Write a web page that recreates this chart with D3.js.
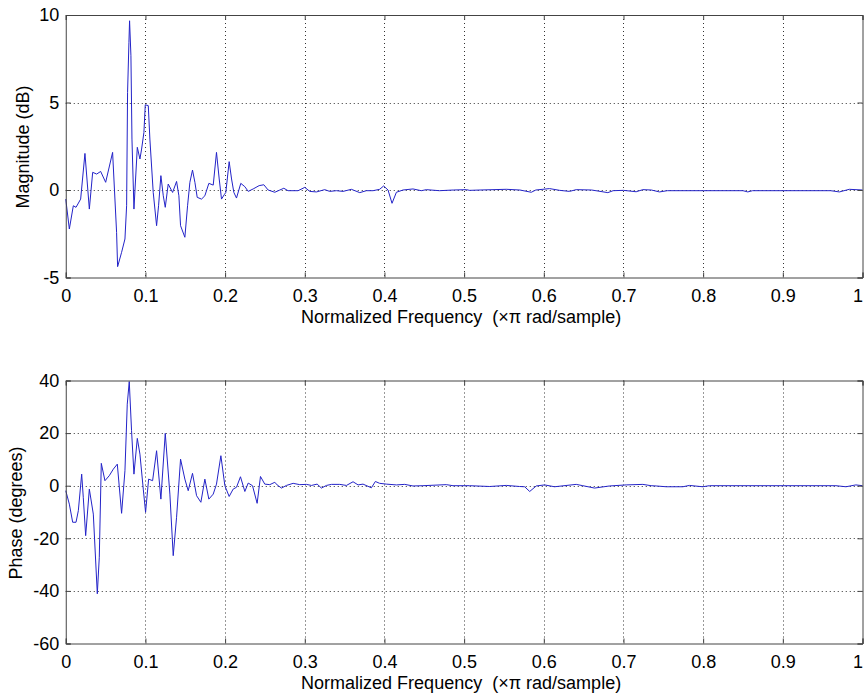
<!DOCTYPE html>
<html><head><meta charset="utf-8">
<script src="https://cdn.jsdelivr.net/npm/d3@7"></script>
<style>
body{margin:0;background:#fff;}
text{font-family:"Liberation Sans",Arial,sans-serif;}
</style></head>
<body><svg id="chart" width="865" height="698"></svg>
<script>
const xTicks = [0,0.1,0.2,0.3,0.4,0.5,0.6,0.7,0.8,0.9,1];
const magTicks = [-5,0,5,10];
const phaseTicks = [-60,-40,-20,0,20,40];
const xLabel = "Normalized Frequency  (\u00d7\u03c0 rad/sample)";
const magLabel = "Magnitude (dB)";
const phaseLabel = "Phase (degrees)";

const magFreq = [0,0.0045,0.0095,0.0129,0.0187,0.0241,0.0296,0.0338,0.0388,0.0438,0.0501,0.0588,0.0638,0.0651,0.0701,0.0743,0.0764,0.0776,0.0793,0.0801,0.0818,0.0831,0.0856,0.0898,0.0931,0.0952,0.0981,0.0998,0.1036,0.1056,0.1098,0.1140,0.1165,0.1194,0.1224,0.1249,0.1286,0.1341,0.1391,0.1420,0.1441,0.1495,0.1529,0.1558,0.1591,0.1621,0.1650,0.1704,0.1746,0.1796,0.1851,0.1892,0.1926,0.1955,0.1989,0.2009,0.2051,0.2081,0.2110,0.2143,0.2197,0.2248,0.2290,0.2352,0.2427,0.2486,0.254,0.2624,0.2687,0.2737,0.279,0.2916,0.300,0.3063,0.3147,0.325,0.3313,0.3397,0.348,0.3585,0.369,0.3773,0.3857,0.394,0.399,0.4045,0.4095,0.415,0.4233,0.4358,0.4463,0.4526,0.469,0.4866,0.5028,0.5069,0.52,0.5529,0.57,0.5843,0.59,0.6072,0.62,0.6323,0.6407,0.66,0.6804,0.687,0.70,0.7159,0.7243,0.735,0.7452,0.755,0.80,0.85,0.856,0.862,0.96,0.971,0.9835,1.0];
const magDb = [-0.52,-2.23,-0.90,-0.99,-0.52,2.09,-1.09,1.01,0.91,1.06,0.44,2.15,-2.42,-4.38,-3.56,-2.80,-0.90,5.58,8.44,9.67,7.67,2.91,-1.09,2.44,1.77,2.34,3.29,4.87,4.82,2.91,-0.14,-2.04,-0.90,0.82,-0.33,-0.99,0.34,-0.14,0.49,-0.33,-2.04,-2.70,-0.90,0.44,1.14,0.44,-0.42,-0.52,-0.33,0.38,0.28,2.15,0.63,-0.52,-0.27,-0.14,1.62,0.63,-0.14,-0.46,0.38,0.19,-0.08,0.06,0.25,0.30,0.0,-0.13,0.0,0.10,-0.04,-0.04,0.15,-0.08,-0.11,0.02,-0.08,-0.04,-0.08,0.04,-0.15,-0.04,-0.04,0.04,0.23,0.0,-0.76,-0.13,0.0,0.06,-0.04,0.02,-0.04,0.0,0.02,-0.02,0.0,0.04,0.0,-0.13,0.0,0.08,-0.02,-0.08,0.02,0.0,-0.15,-0.04,-0.02,-0.10,0.02,0.0,-0.11,-0.04,-0.04,-0.04,-0.11,-0.04,-0.04,-0.11,0.04,0.0];

const phaseFreq = [0,0.0045,0.0087,0.0129,0.0158,0.020,0.0220,0.0250,0.0296,0.0346,0.0396,0.0421,0.0446,0.0492,0.0546,0.0597,0.0647,0.0701,0.0743,0.0772,0.0797,0.0826,0.0856,0.0898,0.0931,0.0973,0.1002,0.1040,0.1090,0.1140,0.1194,0.1249,0.1307,0.1349,0.1391,0.1441,0.1495,0.1537,0.1591,0.1642,0.1696,0.1746,0.1796,0.1851,0.1892,0.1947,0.1997,0.2051,0.2101,0.2143,0.2193,0.2248,0.2290,0.2344,0.2402,0.2444,0.2498,0.2561,0.2624,0.2653,0.2708,0.2770,0.2854,0.2937,0.3021,0.3084,0.3155,0.3209,0.3272,0.3335,0.3439,0.3523,0.3606,0.3669,0.3731,0.3836,0.3886,0.3940,0.4024,0.4150,0.4254,0.4358,0.4483,0.4776,0.4860,0.5069,0.5320,0.5529,0.5696,0.5760,0.5823,0.5905,0.6010,0.6135,0.6407,0.649,0.6637,0.6825,0.7034,0.7243,0.7347,0.7410,0.7536,0.7745,0.7828,0.7995,0.8079,0.9667,0.9792,0.9917,1.0];
const phaseDeg = [-1.9,-7.0,-13.9,-13.9,-9.5,4.4,-4.4,-19.0,-1.3,-10.8,-41.1,-27.2,8.5,1.9,3.8,6.3,8.2,-10.5,5.7,31.0,39.6,20.9,4.4,18.0,12.0,-1.3,-10.1,2.5,1.9,13.3,-5.1,19.9,-3.2,-26.6,-12.0,10.1,2.5,-1.9,4.7,-3.8,-6.3,2.5,-5.1,-3.2,0.6,11.4,0,-4.1,-1.3,-0.6,3.4,-2.2,1.0,0,-6.7,3.5,0.6,0.4,1.3,0.3,-0.9,0.1,0.9,0.4,0.5,0.1,0.6,-0.9,0.1,0.5,0.5,0.1,1.5,0.3,0.6,-0.8,1.6,0.9,0.6,0.3,0.5,-0.1,0,0.4,0,0,-0.3,0.1,-0.3,-0.4,-2.2,-0.1,0.3,-0.4,0.5,0,-0.9,-0.1,0.3,0.5,0,-0.1,-0.4,-0.4,0.1,-0.4,0,0,-0.4,0.3,0];

const svg = d3.select("#chart");
const x = d3.scaleLinear().domain([0,1]).range([65.75,862.5]);
const FS = "18px";

function panel(yDomain, yRange, ticks, fx, fy, ylab, xLabY, labX, labY) {
  const y = d3.scaleLinear().domain(yDomain).range(yRange);
  const g = svg.append("g");
  const top = yRange[1], bot = yRange[0], left = x.range()[0], right = x.range()[1];
  g.selectAll(".gx").data(xTicks.slice(1,-1)).enter().append("line")
    .attr("x1",d=>Math.round(x(d))+0.5).attr("x2",d=>Math.round(x(d))+0.5)
    .attr("y1",top).attr("y2",bot)
    .attr("stroke","#333").attr("stroke-width",1).attr("stroke-dasharray","1,3");
  g.selectAll(".gy").data(ticks.slice(1,-1)).enter().append("line")
    .attr("y1",d=>Math.round(y(d))+0.5).attr("y2",d=>Math.round(y(d))+0.5)
    .attr("x1",left).attr("x2",right)
    .attr("stroke","#333").attr("stroke-width",1).attr("stroke-dasharray","1,3");
  const pts = fx.map((f,i)=>[f,fy[i]]);
  g.append("path").datum(pts)
    .attr("d",d3.line().x(d=>x(d[0])).y(d=>y(d[1])))
    .attr("fill","none").attr("stroke","#2323c8").attr("stroke-width",1);
  const ax = d3.axisBottom(x).tickValues(xTicks).tickSize(-5).tickPadding(12).tickFormat(d=>String(+d.toFixed(1)));
  const gxA = g.append("g").attr("transform",`translate(0,${bot})`).call(ax);
  gxA.selectAll(".tick").filter(d=>d===1).select("text").attr("text-anchor","end").attr("dx","0");
  const axT = d3.axisTop(x).tickValues(xTicks).tickSize(-5).tickFormat("");
  const gxT = g.append("g").attr("transform",`translate(0,${top})`).call(axT);
  const ay = d3.axisLeft(y).tickValues(ticks).tickSize(-5).tickPadding(6.5).tickFormat(d=>String(d));
  const gyA = g.append("g").attr("transform",`translate(${left},0)`).call(ay);
  const ayR = d3.axisRight(y).tickValues(ticks).tickSize(-5).tickFormat("");
  const gyR = g.append("g").attr("transform",`translate(${right},0)`).call(ayR);
  [gxA,gxT,gyA,gyR].forEach(a=>{
    a.selectAll("path").attr("stroke","#444");
    a.selectAll("line").attr("stroke","#444");
    a.selectAll("text").attr("fill","#000").style("font-size",FS).style("font-family","'Liberation Sans',Arial,sans-serif");
  });
  svg.append("text").attr("x",(left+right)/2 - 3).attr("y",xLabY).attr("text-anchor","middle")
    .style("font-size",FS).style("white-space","pre").text(xLabel);
  svg.append("text").attr("transform",`translate(${labX},${labY}) rotate(-90)`).attr("text-anchor","middle")
    .style("font-size",FS).text(ylab);
}

panel([-5,10],[277.5,15],magTicks,magFreq,magDb,magLabel,323,29,147);
panel([-60,40],[643.5,380.5],phaseTicks,phaseFreq,phaseDeg,phaseLabel,689,22,513);
</script></body></html>
